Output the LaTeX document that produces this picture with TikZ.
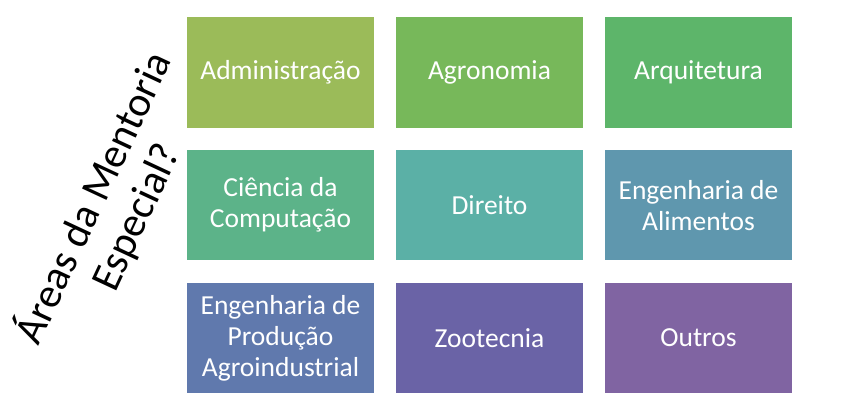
\documentclass[tikz,border=0pt]{standalone}
\usepackage{fontspec}
\setmainfont{Carlito}
\usepackage{tikz}
\usetikzlibrary{positioning}
\definecolor{areaAdm}{HTML}{9BBB59}
\definecolor{areaAgro}{HTML}{77B85A}
\definecolor{areaArq}{HTML}{5DB56A}
\definecolor{areaCien}{HTML}{5CB389}
\definecolor{areaDir}{HTML}{5BB0A6}
\definecolor{areaAlim}{HTML}{5F97AE}
\definecolor{areaProd}{HTML}{6079AD}
\definecolor{areaZoo}{HTML}{6A63A6}
\definecolor{areaOutros}{HTML}{8064A2}
\tikzset{
  area box/.style={rectangle, minimum width=187pt, minimum height=110.5pt,
    inner sep=0pt, outer sep=0pt, align=center, text=white,
    font=\fontsize{27.5}{31}\selectfont},
  title text/.style={align=center, rotate=65,
    font=\fontsize{42}{47}\selectfont}
}

\begin{document}
\begin{tikzpicture}[x=1pt, y=1pt, node distance=22.3pt and 22pt]
  \useasboundingbox (0,0) rectangle (867,410);
  \node[area box, fill=areaAdm] (adm) at (280.5,337.7) {Administração};
  \node[area box, fill=areaAgro, right=of adm] (agro) {Agronomia};
  \node[area box, fill=areaArq, right=of agro] (arq) {Arquitetura};
  \node[area box, fill=areaCien, below=of adm] (cien)
    {Ciência da\\Computação};
  \node[area box, fill=areaDir, right=of cien] (dir) {Direito};
  \node[area box, fill=areaAlim, right=of dir] (alim)
    {Engenharia de\\Alimentos};
  \node[area box, fill=areaProd, below=of cien] (prod)
    {Engenharia de\\Produção\\Agroindustrial};
  \node[area box, fill=areaZoo, right=of prod] (zoo) {Zootecnia};
  \node[area box, fill=areaOutros, right=of zoo] (outros) {Outros};
  \node[title text] (titulo) at (114,203)
    {Áreas da Mentoria\\Especial?};
\end{tikzpicture}
\end{document}
